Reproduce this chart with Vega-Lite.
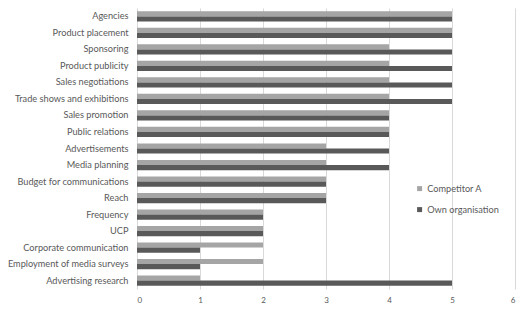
{
  "$schema": "https://vega.github.io/schema/vega-lite/v6.json",
  "width": 378,
  "height": 281,
  "autosize": {"type": "none"},
  "padding": {"left": 137, "top": 8, "right": 13, "bottom": 24},
  "background": "white",
  "config": {
    "view": {"stroke": null},
    "font": "Lato",
    "axis": {"labelFont": "Lato", "labelColor": "#595959", "labelFontSize": 9.2}
  },
  "data": {
    "values": [
      {"item": "Agencies", "series": "Competitor A", "value": 5},
      {"item": "Agencies", "series": "Own organisation", "value": 5},
      {"item": "Product placement", "series": "Competitor A", "value": 5},
      {"item": "Product placement", "series": "Own organisation", "value": 5},
      {"item": "Sponsoring", "series": "Competitor A", "value": 4},
      {"item": "Sponsoring", "series": "Own organisation", "value": 5},
      {"item": "Product publicity", "series": "Competitor A", "value": 4},
      {"item": "Product publicity", "series": "Own organisation", "value": 5},
      {"item": "Sales negotiations", "series": "Competitor A", "value": 4},
      {"item": "Sales negotiations", "series": "Own organisation", "value": 5},
      {"item": "Trade shows and exhibitions", "series": "Competitor A", "value": 4},
      {"item": "Trade shows and exhibitions", "series": "Own organisation", "value": 5},
      {"item": "Sales promotion", "series": "Competitor A", "value": 4},
      {"item": "Sales promotion", "series": "Own organisation", "value": 4},
      {"item": "Public relations", "series": "Competitor A", "value": 4},
      {"item": "Public relations", "series": "Own organisation", "value": 4},
      {"item": "Advertisements", "series": "Competitor A", "value": 3},
      {"item": "Advertisements", "series": "Own organisation", "value": 4},
      {"item": "Media planning", "series": "Competitor A", "value": 3},
      {"item": "Media planning", "series": "Own organisation", "value": 4},
      {"item": "Budget for communications", "series": "Competitor A", "value": 3},
      {"item": "Budget for communications", "series": "Own organisation", "value": 3},
      {"item": "Reach", "series": "Competitor A", "value": 3},
      {"item": "Reach", "series": "Own organisation", "value": 3},
      {"item": "Frequency", "series": "Competitor A", "value": 2},
      {"item": "Frequency", "series": "Own organisation", "value": 2},
      {"item": "UCP", "series": "Competitor A", "value": 2},
      {"item": "UCP", "series": "Own organisation", "value": 2},
      {"item": "Corporate communication", "series": "Competitor A", "value": 2},
      {"item": "Corporate communication", "series": "Own organisation", "value": 1},
      {"item": "Employment of media surveys", "series": "Competitor A", "value": 2},
      {"item": "Employment of media surveys", "series": "Own organisation", "value": 1},
      {"item": "Advertising research", "series": "Competitor A", "value": 1},
      {"item": "Advertising research", "series": "Own organisation", "value": 5}
    ]
  },
  "mark": {"type": "bar"},
  "encoding": {
    "y": {
      "field": "item", "type": "nominal", "sort": null, "title": null,
      "scale": {"paddingInner": 0.38, "paddingOuter": 0.2},
      "axis": {"ticks": false, "domain": false, "labelPadding": 9, "grid": false}
    },
    "yOffset": {
      "field": "series", "type": "nominal",
      "sort": ["Competitor A", "Own organisation"],
      "scale": {"padding": 0}
    },
    "x": {
      "field": "value", "type": "quantitative", "title": null,
      "scale": {"domain": [0, 6], "nice": false},
      "axis": {"values": [0, 1, 2, 3, 4, 5, 6], "labelOverlap": false, "ticks": false, "domain": false, "grid": true, "gridColor": "#d9d9d9", "gridWidth": 1, "labelPadding": 7, "labelFontSize": 8}
    },
    "color": {
      "field": "series", "type": "nominal",
      "scale": {"domain": ["Competitor A", "Own organisation"], "range": ["#a5a5a5", "#595959"]},
      "legend": {
        "title": null, "orient": "none", "legendX": 278, "legendY": 176,
        "symbolType": "square", "symbolSize": 25, "rowPadding": 11,
        "labelFont": "Lato", "labelFontSize": 9.2, "labelColor": "#595959", "labelOffset": 3
      }
    }
  }
}
